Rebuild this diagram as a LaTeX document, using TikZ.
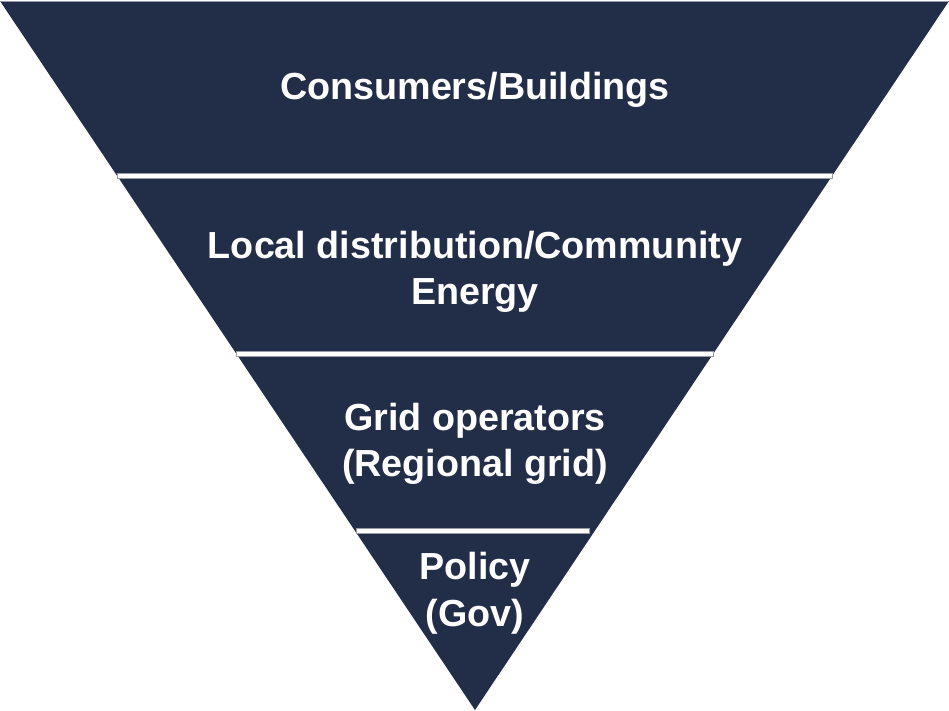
\documentclass[tikz,border=0pt]{standalone}
\usepackage{fontspec}
\setmainfont{Liberation Sans}
\definecolor{navy}{RGB}{34,46,72}
\definecolor{sepgray}{RGB}{150,155,165}
\begin{document}
\begin{tikzpicture}[x=1pt,y=-1pt,
  lbl/.style={text=white,align=center,font=\fontsize{37.7}{46.5}\selectfont\bfseries,inner sep=0pt},
  sep/.style={fill=white,draw=sepgray,line width=0.5pt}]
\useasboundingbox (0,0) rectangle (949,710);
\fill[white] (0,0) rectangle (949,710);
\fill[navy] (0,1) -- (949,1) -- (475,710) -- cycle;
\draw[sepgray,line width=0.8pt] (0,1) -- (949,1);
\draw[sep] (117,173.5) rectangle (832,178.5);
\draw[sep] (236,351) rectangle (713,356);
\draw[sep] (356,528.5) rectangle (589,533.5);
\node[lbl] (cons) at (475,90) {Consumers/Buildings};
\node[lbl] (local) at (475,272) {Local distribution/Community\\Energy};
\node[lbl] (grid) at (475,444) {Grid operators\\(Regional grid)};
\node[lbl] (pol) at (475,593) {Policy\\(Gov)};
\end{tikzpicture}
\end{document}
